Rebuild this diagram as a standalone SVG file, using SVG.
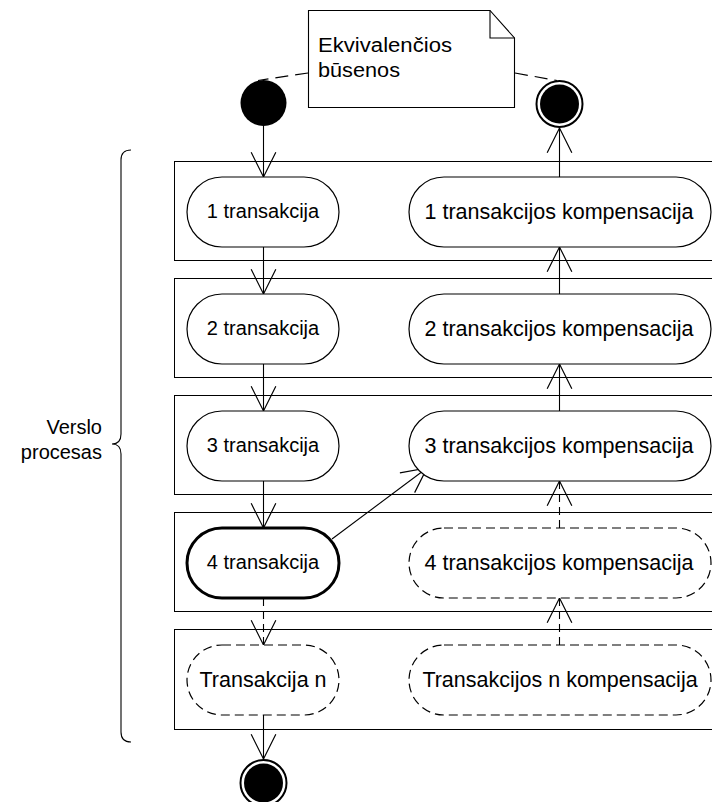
<svg xmlns="http://www.w3.org/2000/svg" width="712" height="802" viewBox="0 0 712 802">
  <style>
    .lane { fill: #fff; stroke: #000; stroke-width: 1; }
    .act { fill: #fff; stroke: #000; stroke-width: 1.2; }
    .act.main { stroke-width: 3; }
    .act.opt { stroke-dasharray: 9 5; }
    .lbl { font-family: "Liberation Sans", Arial, sans-serif; font-size: 20px; fill: #000; }
    .lbl.big { font-size: 21.5px; }
    .mid { text-anchor: middle; }
    .flow { fill: none; stroke: #000; stroke-width: 1.1; marker-end: url(#open); }
    .flow.opt { stroke-dasharray: 8 5; }
    .anchor { fill: none; stroke: #000; stroke-width: 1.2; stroke-dasharray: 13 7; }
  </style>
  <defs>
    <marker id="open" markerUnits="userSpaceOnUse" markerWidth="30" markerHeight="30" viewBox="-25 -14 28 28" refX="0" refY="0" orient="auto" overflow="visible">
      <path d="M-23,-11.5 L0,0 L-23,11.5" fill="none" stroke="#000" stroke-width="1.1"/>
    </marker>
  </defs>
  <rect width="712" height="802" fill="#fff"/>

  <!-- brace with caption -->
  <g id="process">
    <path d="M131,150 Q121,150 121,160 L121,434 Q121,444 112,444 Q121,444 121,454 L121,732 Q121,742 131,742" fill="none" stroke="#000" stroke-width="1.1"/>
    <text class="lbl" x="102" y="434" text-anchor="end">Verslo</text>
    <text class="lbl" x="102" y="459" text-anchor="end">procesas</text>
  </g>

  <!-- lanes -->
  <g id="lanes">
    <rect class="lane" x="174.5" y="161.5" width="545" height="99"/>
    <rect class="lane" x="174.5" y="278.5" width="545" height="99"/>
    <rect class="lane" x="174.5" y="395.5" width="545" height="99"/>
    <rect class="lane" x="174.5" y="512.5" width="545" height="99"/>
    <rect class="lane" x="174.5" y="629.5" width="545" height="100"/>
  </g>

  <!-- note -->
  <g id="note">
    <path d="M308.5,10.5 L490,10.5 L514.5,38 L514.5,107.5 L308.5,107.5 Z" fill="#fff" stroke="#000" stroke-width="1.1"/>
    <path d="M490,10.5 L490,38 L514.5,38" fill="none" stroke="#000" stroke-width="1.1"/>
    <text class="lbl" x="318" y="52" textLength="134" lengthAdjust="spacingAndGlyphs">Ekvivalenčios</text>
    <text class="lbl" x="318" y="77" textLength="82" lengthAdjust="spacingAndGlyphs">būsenos</text>
  </g>

  <!-- connectors -->
  <g id="connectors">
    <path class="anchor" d="M308,73 L258,80.5"/>
    <path class="anchor" d="M515,73 L557,80.5"/>
    <path class="flow" d="M263.5,126 L263.5,177"/>
    <path class="flow" d="M263.5,247 L263.5,294"/>
    <path class="flow" d="M263.5,364 L263.5,411"/>
    <path class="flow" d="M263.5,481 L263.5,528"/>
    <path class="flow opt" d="M263.5,598 L263.5,645"/>
    <path class="flow" d="M263.5,715 L263.5,759"/>
    <path class="flow" d="M559.5,177 L559.5,128"/>
    <path class="flow" d="M559.5,294 L559.5,247"/>
    <path class="flow" d="M559.5,411 L559.5,364"/>
    <path class="flow opt" d="M559.5,528 L559.5,481"/>
    <path class="flow opt" d="M559.5,645 L559.5,598"/>
    <path class="flow" d="M332,539 L427,468"/>
  </g>

  <!-- initial and final states -->
  <g id="start">
    <circle cx="263.5" cy="103" r="23" fill="#000"/>
  </g>
  <g id="end-top">
    <circle cx="559.5" cy="104" r="23" fill="#fff" stroke="#000" stroke-width="2"/>
    <circle cx="559.5" cy="104" r="19.5" fill="#000"/>
  </g>
  <g id="end-bottom">
    <circle cx="263.5" cy="783" r="23" fill="#fff" stroke="#000" stroke-width="2"/>
    <circle cx="263.5" cy="783" r="19.5" fill="#000"/>
  </g>

  <!-- transactions -->
  <g id="t1">
    <rect class="act" x="187" y="177" width="152" height="70" rx="35"/>
    <text class="lbl mid" x="263" y="218">1 transakcija</text>
  </g>
  <g id="t2">
    <rect class="act" x="187" y="294" width="152" height="70" rx="35"/>
    <text class="lbl mid" x="263" y="335">2 transakcija</text>
  </g>
  <g id="t3">
    <rect class="act" x="187" y="411" width="152" height="70" rx="35"/>
    <text class="lbl mid" x="263" y="452">3 transakcija</text>
  </g>
  <g id="t4">
    <rect class="act main" x="187" y="528" width="152" height="70" rx="35"/>
    <text class="lbl mid" x="263" y="569">4 transakcija</text>
  </g>
  <g id="tn">
    <rect class="act opt" x="187" y="645" width="152" height="70" rx="35"/>
    <text class="lbl big mid" x="263" y="687">Transakcija n</text>
  </g>

  <!-- compensations -->
  <g id="c1">
    <rect class="act" x="409" y="177" width="302" height="70" rx="35"/>
    <text class="lbl big mid" x="559" y="219">1 transakcijos kompensacija</text>
  </g>
  <g id="c2">
    <rect class="act" x="409" y="294" width="302" height="70" rx="35"/>
    <text class="lbl big mid" x="559" y="336">2 transakcijos kompensacija</text>
  </g>
  <g id="c3">
    <rect class="act" x="409" y="411" width="302" height="70" rx="35"/>
    <text class="lbl big mid" x="559" y="453">3 transakcijos kompensacija</text>
  </g>
  <g id="c4">
    <rect class="act opt" x="409" y="528" width="302" height="70" rx="35"/>
    <text class="lbl big mid" x="559" y="570">4 transakcijos kompensacija</text>
  </g>
  <g id="cn">
    <rect class="act opt" x="409" y="645" width="302" height="70" rx="35"/>
    <text class="lbl big mid" x="560" y="687">Transakcijos n kompensacija</text>
  </g>
</svg>
